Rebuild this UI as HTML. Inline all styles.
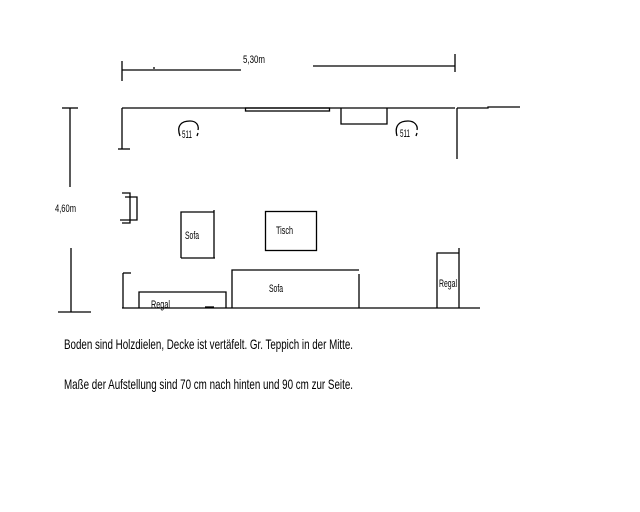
<!DOCTYPE html>
<html><head><meta charset="utf-8"><style>
html,body{margin:0;padding:0;background:#fff;}
svg{display:block}
text{font-family:"Liberation Sans",sans-serif;fill:#000}
</style></head><body>
<svg width="640" height="512" viewBox="0 0 640 512" xmlns="http://www.w3.org/2000/svg">
<g stroke="#000" stroke-width="1.3" fill="none">
<line x1="122" y1="61" x2="122" y2="81"/>
<line x1="122" y1="70" x2="241" y2="70"/>
<line x1="313" y1="66" x2="455" y2="66"/>
<line x1="455" y1="54" x2="455" y2="72"/>
<line x1="154" y1="67" x2="154" y2="69"/>
<line x1="122" y1="108" x2="455" y2="108"/>
<polyline points="457,108 488,108 488,107 520,107"/>
<line x1="122" y1="108" x2="122" y2="149"/>
<line x1="118" y1="149" x2="130" y2="149"/>
<rect x="245.5" y="108" width="84" height="3"/>
<polyline points="341,108 341,124 387,124 387,108"/>
<line x1="457" y1="108" x2="457" y2="159"/>
<path d="M180,136 C176,125 182,121 190,121 C197,121 199,126 198,130 M197,136 L198,133"/>
<path d="M397,136 C394,125 400,121 408,121 C415,121 418,126 417,130 M416,136 L417,133"/>
<line x1="62" y1="108" x2="78" y2="108"/>
<line x1="70" y1="108" x2="70" y2="187"/>
<line x1="71" y1="248" x2="71" y2="312"/>
<line x1="58" y1="312" x2="91" y2="312"/>
<polyline points="122,193 130,193 130,223 122,223"/>
<polyline points="125,197 137,197 137,220 120,220"/>
<polyline points="181,258 181,212 214,212"/>
<line x1="214" y1="210" x2="214" y2="258"/>
<line x1="181" y1="258" x2="215" y2="258"/>
<rect x="265.5" y="211.5" width="51" height="39"/>
<line x1="123" y1="273" x2="123" y2="308"/>
<line x1="123" y1="273" x2="131" y2="273"/>
<line x1="122" y1="308" x2="480" y2="308"/>
<polyline points="139,308 139,292 226,292 226,308"/>
<line x1="205" y1="307" x2="214" y2="307"/>
<polyline points="232,308 232,270 359,270"/>
<line x1="359" y1="274" x2="359" y2="308"/>
<polyline points="437,308 437,253 459,253"/>
<line x1="459" y1="248" x2="459" y2="308"/>
</g>
<g font-size="11">
<text x="243" y="63" textLength="22" lengthAdjust="spacingAndGlyphs">5,30m</text>
<text x="182" y="138" textLength="10" lengthAdjust="spacingAndGlyphs">511</text>
<text x="400" y="137" textLength="10" lengthAdjust="spacingAndGlyphs">511</text>
<text x="55" y="212" textLength="21" lengthAdjust="spacingAndGlyphs">4,60m</text>
<text x="185" y="239" textLength="14" lengthAdjust="spacingAndGlyphs">Sofa</text>
<text x="276" y="234" textLength="17" lengthAdjust="spacingAndGlyphs">Tisch</text>
<text x="269" y="292" textLength="14" lengthAdjust="spacingAndGlyphs">Sofa</text>
<text x="151" y="308" textLength="19" lengthAdjust="spacingAndGlyphs">Regal</text>
<text x="439" y="287" textLength="18" lengthAdjust="spacingAndGlyphs">Regal</text>
</g>
<g font-size="14">
<text x="64" y="349" textLength="289" lengthAdjust="spacingAndGlyphs">Boden sind Holzdielen, Decke ist vertäfelt. Gr. Teppich in der Mitte.</text>
<text x="64" y="389" textLength="289" lengthAdjust="spacingAndGlyphs">Maße der Aufstellung sind 70 cm nach hinten und 90 cm zur Seite.</text>
</g>
</svg>
</body></html>
